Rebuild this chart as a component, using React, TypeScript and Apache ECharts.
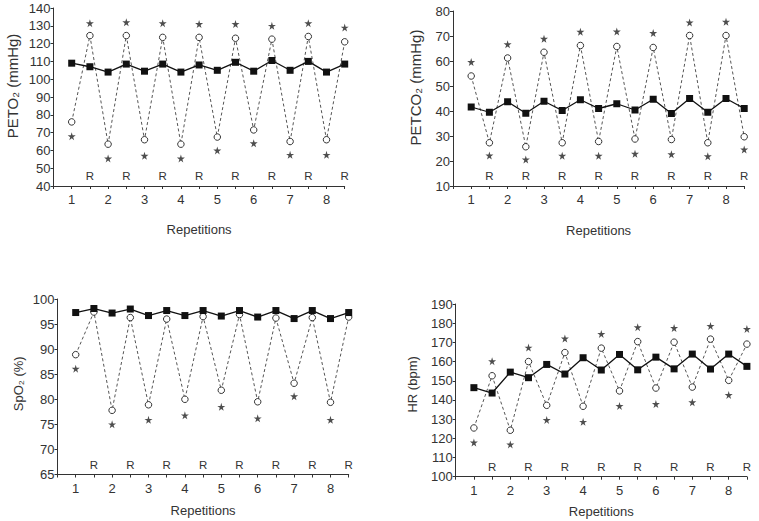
import React, { useEffect, useRef } from "react";
import * as echarts from "echarts";

const X_POS = [1, 1.5, 2, 2.5, 3, 3.5, 4, 4.5, 5, 5.5, 6, 6.5, 7, 7.5, 8, 8.5];

const PETO2_SQUARES = [109, 107, 104, 108.5, 104.5, 108.5, 104, 108, 105, 109.5, 104.5, 110.5, 105, 110, 104, 108.5];
const PETO2_CIRCLES = [76, 124.5, 63.5, 124.5, 66, 123.5, 63.5, 123.5, 67.5, 123, 71.5, 122.5, 65, 124, 66, 121];
const PETO2_STARS = [68, 131.5, 55.5, 132, 57, 131.5, 55.5, 131, 60, 131, 64, 130, 57.5, 131.5, 57.5, 129];

const PETCO2_SQUARES = [41.6, 39.5, 43.7, 39.1, 43.9, 40.2, 44.5, 41, 42.9, 40.4, 44.7, 39, 45, 39.5, 45, 41];
const PETCO2_CIRCLES = [54, 27.3, 61.2, 25.7, 63.5, 27.3, 66.2, 27.8, 65.8, 28.8, 65.4, 28.6, 70.2, 27.3, 70.2, 29.7];
const PETCO2_STARS = [59.6, 22.2, 66.7, 20.6, 68.9, 22.1, 71.7, 22.1, 71.8, 22.9, 71.2, 22.7, 75.4, 21.9, 75.7, 24.6];

const SPO2_SQUARES = [97.3, 98.1, 97.2, 98, 96.7, 97.7, 96.7, 97.7, 96.6, 97.7, 96.4, 97.7, 96.1, 97.7, 96.1, 97.3];
const SPO2_CIRCLES = [88.9, 97.4, 77.8, 96.3, 78.9, 96, 80, 96.5, 81.8, 96.9, 79.5, 96.2, 83.2, 96.3, 79.4, 96.4];
const SPO2_STARS = [86.1, null, 75, null, 75.9, null, 76.8, null, 78.5, null, 76.2, null, 80.6, null, 75.9, null];

const HR_SQUARES = [146.4, 143.6, 154.5, 151.6, 158.5, 153.5, 162, 155.6, 163.7, 155.7, 162.3, 156.2, 163.9, 156.1, 163.9, 157.5];
const HR_CIRCLES = [125.4, 152.6, 124.2, 160, 137.2, 164.7, 136.7, 167, 144.7, 170.4, 146.2, 170.1, 146.7, 171.7, 150.2, 169.1];
const HR_STARS = [117.8, 160.2, 116.8, 167.3, 129.6, 172, 128.6, 174.4, 136.9, 177.9, 137.9, 177.5, 138.8, 178.6, 142.6, 177];

const Y_NAMES = ["PETO\u2082 (mmHg)", "PETCO\u2082 (mmHg)", "SpO\u2082 (%)", "HR (bpm)"];
const Y_RANGES = [
  [40, 140, 10],
  [10, 80, 10],
  [65, 100, 5],
  [100, 190, 10],
];
const X_NAME = "Repetitions";

const FONT = "'Liberation Sans', Arial, sans-serif";
const TXT = "#333";
const STAR =
  "path://M50,0 L61,35 L98,35 L68,57 L79,91 L50,70 L21,91 L32,57 L2,35 L39,35 Z";

const PANELS = [
  { squares: PETO2_SQUARES, circles: PETO2_CIRCLES, stars: PETO2_STARS, grid: { left: 53.5, top: 8, width: 291.2, height: 178 }, xGap: 37, yGap: 34, yPad: 22, ySize: 15 },
  { squares: PETCO2_SQUARES, circles: PETCO2_CIRCLES, stars: PETCO2_STARS, grid: { left: 453, top: 11, width: 291.2, height: 175 }, xGap: 38, yGap: 30, yPad: 22, ySize: 15 },
  { squares: SPO2_SQUARES, circles: SPO2_CIRCLES, stars: SPO2_STARS, grid: { left: 57.5, top: 299, width: 291.2, height: 175.5 }, xGap: 29, yGap: 33, yPad: 6, ySize: 13 },
  { squares: HR_SQUARES, circles: HR_CIRCLES, stars: HR_STARS, grid: { left: 455.7, top: 304, width: 291.2, height: 172.7 }, xGap: 28, yGap: 37, yPad: 12, ySize: 13 },
];

export default function App() {
  const ref = useRef<HTMLDivElement>(null);
  useEffect(() => {
    document.body.style.margin = "0";
    const chart = echarts.init(ref.current!, null, { renderer: "svg" });
    const grids: any[] = [];
    const xAxes: any[] = [];
    const yAxes: any[] = [];
    const series: any[] = [];
    PANELS.forEach((p, i) => {
      grids.push({ ...p.grid, containLabel: false });
      xAxes.push({
        type: "value",
        gridIndex: i,
        position: "bottom",
        min: 0.5,
        max: 8.5,
        interval: 0.5,
        axisLine: { show: true, onZero: false, lineStyle: { color: TXT, width: 1 } },
        axisTick: { show: true, length: 3, lineStyle: { color: TXT } },
        splitLine: { show: false },
        axisLabel: {
          margin: 7,
          fontSize: 13,
          color: TXT,
          fontFamily: FONT,
          formatter: (v: number) => (Math.abs(v - Math.round(v)) < 1e-6 ? String(Math.round(v)) : ""),
        },
        name: X_NAME,
        nameLocation: "middle",
        nameGap: p.xGap,
        nameTextStyle: { fontSize: 13, color: TXT, fontFamily: FONT },
      });
      xAxes.push({
        type: "value",
        gridIndex: i,
        position: "bottom",
        min: 0.5,
        max: 8.5,
        interval: 0.5,
        axisLine: { show: false, onZero: false },
        axisTick: { show: false },
        splitLine: { show: false },
        axisLabel: {
          inside: true,
          margin: 4,
          fontSize: 11.5,
          color: TXT,
          fontFamily: FONT,
          formatter: (v: number) => (Math.abs(v - Math.round(v)) > 0.25 && v > 0.75 ? "R" : ""),
        },
      });
      const [mn, mx, iv] = Y_RANGES[i];
      yAxes.push({
        type: "value",
        gridIndex: i,
        min: mn,
        max: mx,
        interval: iv,
        axisLine: { show: true, onZero: false, lineStyle: { color: TXT, width: 1 } },
        axisTick: { show: true, length: 3, lineStyle: { color: TXT } },
        splitLine: { show: false },
        axisLabel: { margin: 3, fontSize: 13, color: TXT, fontFamily: FONT },
        name: Y_NAMES[i],
        nameLocation: "middle",
        nameGap: p.yGap,
        nameTextStyle: { fontSize: p.ySize, color: TXT, fontFamily: FONT, padding: [0, 0, 0, p.yPad] },
      });
      series.push({
        type: "line",
        xAxisIndex: 2 * i,
        yAxisIndex: i,
        data: X_POS.map((x, k) => [x, p.circles[k]]),
        symbol: "circle",
        symbolSize: 6.5,
        showAllSymbol: true,
        itemStyle: { color: "#fff", borderColor: "#333", borderWidth: 1 },
        lineStyle: { type: [3, 2.5], color: "#555", width: 1 },
        z: 2,
      });
      series.push({
        type: "line",
        xAxisIndex: 2 * i,
        yAxisIndex: i,
        data: X_POS.map((x, k) => [x, p.squares[k]]),
        symbol: "rect",
        symbolSize: 7,
        showAllSymbol: true,
        itemStyle: { color: "#111" },
        lineStyle: { color: "#111", width: 1.3 },
        z: 3,
      });
      series.push({
        type: "scatter",
        xAxisIndex: 2 * i,
        yAxisIndex: i,
        data: X_POS.map((x, k) => [x, p.stars[k]]).filter((d) => d[1] != null),
        symbol: STAR,
        symbolSize: 8,
        itemStyle: { color: "#222" },
        z: 4,
      });
    });
    chart.setOption({
      animation: false,
      backgroundColor: "#fff",
      textStyle: { fontFamily: FONT },
      grid: grids,
      xAxis: xAxes,
      yAxis: yAxes,
      series,
    });
    return () => chart.dispose();
  }, []);
  return <div ref={ref} style={{ width: 759, height: 521 }} />;
}
